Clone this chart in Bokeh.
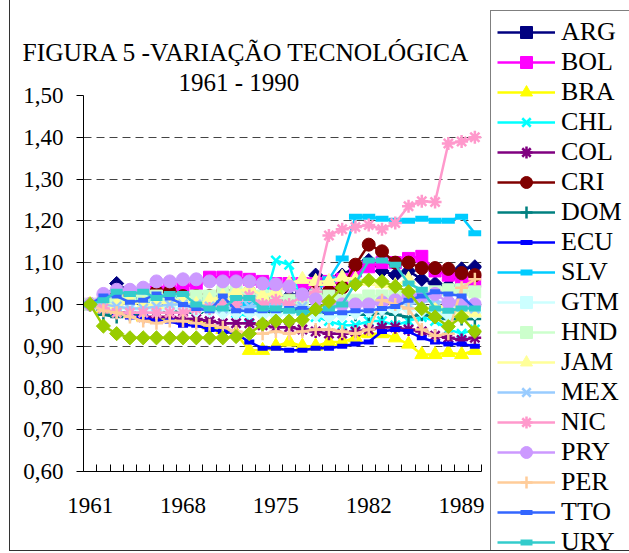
from bokeh.plotting import figure
from bokeh.layouts import row
from bokeh.models import (Range1d, FixedTicker, CustomJSTickFormatter, Legend,
                          LegendItem, Title)
from bokeh.embed import file_html
from bokeh.resources import INLINE

years = list(range(1961, 1991))
x_labels = [1961, 1968, 1975, 1982, 1989]
y_ticks = [0.6, 0.7, 0.8, 0.9, 1.0, 1.1, 1.2, 1.3, 1.4, 1.5]
grid_ticks = [0.7, 0.8, 0.9, 1.0, 1.1, 1.2, 1.3, 1.4]

title_line1 = "FIGURA 5 -VARIAÇÃO TECNOLÓGICA"
title_line2 = "1961 - 1990"

ARG = [1.00, 1.01, 1.05, 1.03, 1.02, 1.02, 1.02, 1.01, 1.01, 1.02,
       1.02, 1.02, 1.03, 1.02, 1.01, 1.02, 1.03, 1.07, 1.05, 1.07,
       1.09, 1.105, 1.08, 1.07, 1.08, 1.06, 1.05, 1.045, 1.085, 1.09]
BOL = [1.00, 1.01, 1.01, 1.02, 1.02, 1.03, 1.04, 1.04, 1.05, 1.065,
       1.065, 1.065, 1.06, 1.055, 1.05, 1.05, 1.05, 1.05, 1.055, 1.06,
       1.08, 1.09, 1.10, 1.10, 1.11, 1.115, 1.08, 1.07, 1.06, 1.055]
BRA = [1.00, 0.99, 0.98, 0.98, 0.97, 0.97, 0.97, 0.965, 0.96, 0.95,
       0.94, 0.93, 0.89, 0.89, 0.90, 0.91, 0.90, 0.90, 0.91, 0.91,
       0.92, 0.93, 0.93, 0.92, 0.905, 0.88, 0.88, 0.885, 0.88, 0.89]
CHL = [1.00, 1.00, 1.01, 1.03, 1.02, 1.01, 1.01, 1.00, 1.00, 0.99,
       0.99, 0.98, 0.97, 0.99, 1.105, 1.095, 1.00, 0.97, 0.96, 0.95,
       0.95, 0.96, 0.96, 0.95, 0.96, 0.97, 0.96, 0.94, 0.93, 0.94]
COL = [1.00, 0.99, 0.98, 0.98, 0.97, 0.97, 0.97, 0.965, 0.965, 0.96,
       0.955, 0.955, 0.955, 0.95, 0.945, 0.945, 0.94, 0.935, 0.93, 0.93,
       0.935, 0.94, 0.945, 0.945, 0.94, 0.935, 0.925, 0.92, 0.915, 0.92]
CRI = [1.00, 1.01, 1.02, 1.02, 1.02, 1.03, 1.03, 1.02, 1.02, 1.02,
       1.03, 1.03, 1.03, 1.02, 1.01, 1.01, 1.02, 1.03, 1.03, 1.04,
       1.095, 1.143, 1.127, 1.10, 1.10, 1.087, 1.087, 1.085, 1.075, 1.07]
DOM = [1.00, 0.975, 0.97, 0.975, 0.98, 0.98, 0.985, 0.98, 0.98, 0.985,
       0.99, 0.985, 0.98, 0.98, 0.98, 0.985, 0.99, 0.985, 0.98, 0.98,
       0.975, 0.975, 0.98, 0.975, 0.97, 0.975, 0.97, 0.965, 0.965, 0.965]
ECU = [1.00, 0.99, 0.98, 0.97, 0.97, 0.96, 0.96, 0.95, 0.95, 0.94,
       0.935, 0.93, 0.91, 0.895, 0.895, 0.89, 0.89, 0.895, 0.895, 0.90,
       0.905, 0.91, 0.935, 0.94, 0.935, 0.92, 0.91, 0.905, 0.905, 0.90]
SLV = [1.00, 1.00, 1.01, 1.01, 1.01, 1.02, 1.02, 1.02, 1.01, 1.01,
       1.01, 1.00, 1.00, 1.00, 1.00, 1.01, 1.02, 1.03, 1.06, 1.11,
       1.21, 1.21, 1.205, 1.20, 1.20, 1.205, 1.20, 1.20, 1.21, 1.17]
GTM = [1.00, 0.995, 0.99, 0.99, 0.985, 0.985, 0.99, 0.99, 0.985, 0.985,
       0.98, 0.98, 0.98, 0.975, 0.975, 0.98, 0.98, 0.975, 0.97, 0.975,
       0.98, 0.985, 0.99, 0.99, 0.99, 0.985, 0.98, 0.975, 0.98, 0.98]
HND = [1.00, 1.01, 1.01, 1.02, 1.02, 1.02, 1.01, 1.015, 1.02, 1.02,
       1.03, 1.03, 1.025, 1.02, 1.02, 1.01, 1.01, 1.02, 1.02, 1.01,
       1.01, 1.02, 1.02, 1.02, 1.02, 1.025, 1.03, 1.035, 1.035, 1.03]
JAM = [1.00, 1.00, 1.00, 1.01, 1.00, 1.00, 1.01, 1.01, 1.00, 1.01,
       1.02, 1.03, 1.04, 1.02, 1.03, 1.05, 1.06, 1.055, 1.055, 1.065,
       1.06, 1.055, 1.05, 1.045, 1.06, 1.02, 1.00, 0.99, 0.98, 0.98]
MEX = [1.00, 1.00, 0.995, 0.99, 0.99, 0.995, 1.00, 1.00, 1.00, 0.995,
       0.99, 0.99, 0.995, 1.00, 1.00, 1.00, 0.995, 0.99, 0.99, 0.995,
       1.00, 1.00, 1.005, 1.005, 1.00, 1.005, 1.01, 1.00, 0.995, 0.99]
NIC = [1.00, 0.99, 0.98, 0.98, 0.98, 0.98, 0.98, 0.98, 0.99, 0.99,
       1.00, 1.00, 1.02, 1.00, 1.01, 1.00, 1.02, 1.03, 1.165, 1.18,
       1.185, 1.19, 1.18, 1.195, 1.235, 1.247, 1.245, 1.385, 1.39, 1.40]
PRY = [1.00, 1.025, 1.035, 1.035, 1.04, 1.055, 1.055, 1.06, 1.06, 1.055,
       1.055, 1.055, 1.055, 1.05, 1.048, 1.043, 1.024, 1.012, 1.002, 1.00,
       1.00, 1.00, 1.005, 1.01, 1.02, 1.02, 1.025, 1.005, 1.005, 1.00]
PER = [1.00, 0.985, 0.98, 0.97, 0.96, 0.955, 0.96, 0.96, 0.955, 0.95,
       0.945, 0.935, 0.93, 0.93, 0.935, 0.93, 0.935, 0.94, 0.94, 0.935,
       0.93, 0.94, 1.01, 1.00, 0.99, 0.94, 0.925, 0.93, 1.04, 1.06]
TTO = [1.00, 1.02, 1.02, 1.005, 1.01, 1.025, 1.015, 1.00, 0.99, 0.985,
       1.02, 0.985, 0.985, 0.985, 0.985, 0.99, 0.99, 0.985, 0.98, 0.98,
       0.985, 0.985, 0.99, 0.995, 1.01, 1.02, 1.03, 1.025, 1.02, 0.99]
URY = [1.00, 1.01, 1.03, 1.025, 1.03, 1.015, 1.025, 1.025, 1.00, 0.99,
       0.99, 1.015, 1.015, 0.99, 0.99, 0.985, 0.98, 0.985, 0.99, 1.00,
       1.05, 1.105, 1.105, 1.095, 1.05, 1.035, 0.99, 0.985, 0.99, 0.99]
VEN = [1.00, 0.948, 0.93, 0.92, 0.92, 0.92, 0.92, 0.92, 0.92, 0.92,
       0.92, 0.923, 0.93, 0.953, 0.96, 0.96, 0.963, 0.988, 1.007, 1.04,
       1.048, 1.058, 1.055, 1.043, 1.03, 0.99, 0.97, 0.947, 0.97, 0.935]

series_names = ["ARG", "BOL", "BRA", "CHL", "COL", "CRI", "DOM", "ECU", "SLV",
                "GTM", "HND", "JAM", "MEX", "NIC", "PRY", "PER", "TTO", "URY", "VEN"]
series_values = [ARG, BOL, BRA, CHL, COL, CRI, DOM, ECU, SLV,
                 GTM, HND, JAM, MEX, NIC, PRY, PER, TTO, URY, VEN]

# style: (color, marker, size, marker line width, angle)
styles = {
    "ARG": ("#000080", "square", 10, 1, 0.785398),
    "BOL": ("#FF00FF", "square", 12, 1, 0),
    "BRA": ("#FFFF00", "triangle", 14, 1, 0),
    "CHL": ("#00FFFF", "x", 13, 2.5, 0),
    "COL": ("#800080", "asterisk", 13, 2.5, 0),
    "CRI": ("#800000", "circle", 13, 1, 0),
    "DOM": ("#008080", "cross", 13, 2.5, 0),
    "ECU": ("#0000FF", "dash", 10, 5, 0),
    "SLV": ("#00CCFF", "dash", 13, 6, 0),
    "GTM": ("#CCFFFF", "square", 10, 1, 0.785398),
    "HND": ("#CCFFCC", "square", 12, 1, 0),
    "JAM": ("#FFFF99", "triangle", 14, 1, 0),
    "MEX": ("#99CCFF", "x", 13, 2.5, 0),
    "NIC": ("#FF99CC", "asterisk", 13, 2.5, 0),
    "PRY": ("#CC99FF", "circle", 13, 1, 0),
    "PER": ("#FFCC99", "cross", 13, 2.5, 0),
    "TTO": ("#3366FF", "dash", 10, 5, 0),
    "URY": ("#33CCCC", "dash", 12, 6, 0),
    "VEN": ("#99CC00", "square", 10, 1, 0.785398),
}

FONT = "Liberation Serif"

# ---------------- main chart ----------------
p = figure(width=479, height=550, output_backend="svg", toolbar_location=None,
           title=None,
           x_range=Range1d(1960.5, 1990.5), y_range=Range1d(0.6, 1.5),
           min_border_left=73, min_border_right=8, min_border_top=95,
           min_border_bottom=79)
p.frame_align = False
p.outline_line_color = None
p.background_fill_color = "white"
p.border_fill_color = "white"

p.xaxis.ticker = FixedTicker(ticks=x_labels,
                             minor_ticks=[y - 0.5 for y in years] + [years[-1] + 0.5])
p.xaxis.major_tick_line_color = None
p.xaxis.major_tick_in = 0
p.xaxis.major_tick_out = 0
p.xaxis.minor_tick_line_color = "black"
p.xaxis.minor_tick_in = 7
p.xaxis.minor_tick_out = 0
p.xaxis.major_label_standoff = 26
p.yaxis.ticker = FixedTicker(ticks=y_ticks)
p.yaxis.formatter = CustomJSTickFormatter(code="return tick.toFixed(2).replace('.', ',');")
p.yaxis.major_tick_in = 0
p.yaxis.major_tick_out = 7
p.yaxis.minor_tick_line_color = None
p.yaxis.major_label_standoff = 13
for ax in (p.xaxis, p.yaxis):
    ax.axis_line_color = "black"
    ax.axis_line_width = 1
    ax.major_label_text_font = FONT
    ax.major_label_text_font_size = "23px"
    ax.major_label_text_color = "black"

p.xgrid.grid_line_color = None
p.ygrid.ticker = FixedTicker(ticks=grid_ticks)
p.ygrid.grid_line_color = "#444444"
p.ygrid.grid_line_dash = "8 5"
p.ygrid.grid_line_width = 1

for name, vals in zip(series_names, series_values):
    color, marker, size, mlw, ang = styles[name]
    p.line(years, vals, line_color=color, line_width=2.5)
    p.scatter(years, vals, marker=marker, size=size, angle=ang,
              fill_color=color, line_color=color, line_width=mlw)

p.add_layout(Title(text=title_line2, align="left", offset=95, standoff=0,
                   text_font=FONT, text_font_size="25px", text_font_style="normal",
                   text_color="black"), "above")
p.add_layout(Title(text=title_line1, align="left", offset=-61, standoff=0,
                   text_font=FONT, text_font_size="25.5px", text_font_style="normal",
                   text_color="black"), "above")

# ---------------- legend panel ----------------
q = figure(width=140, height=550, output_backend="svg", toolbar_location=None,
           title=None, x_range=Range1d(0, 1), y_range=Range1d(0, 1),
           min_border_left=0, min_border_right=0, min_border_top=0,
           min_border_bottom=0)
q.frame_align = False
q.xaxis.visible = False
q.yaxis.visible = False
q.xgrid.visible = False
q.ygrid.visible = False
q.outline_line_color = None
q.background_fill_color = "white"
q.border_fill_color = "white"

items = []
for name, vals in zip(series_names, series_values):
    color, marker, size, mlw, ang = styles[name]
    # same series, outside this panel's visible range: only the legend shows
    r1 = q.line(years, vals, line_color=color, line_width=2.5)
    r2 = q.scatter(years, vals, marker=marker, size=size, angle=ang,
                   fill_color=color, line_color=color, line_width=mlw)
    items.append(LegendItem(label=name, renderers=[r1, r2]))

legend = Legend(items=items, location=(1, -44), orientation="vertical",
                label_text_font=FONT, label_text_font_size="26px",
                label_text_color="black",
                label_height=30, glyph_height=30, glyph_width=58,
                label_standoff=6, spacing=0, padding=6, margin=0,
                label_width=75,
                border_line_color="black", border_line_width=1,
                background_fill_color="white", background_fill_alpha=1)
q.add_layout(legend)

layout = row(p, q, spacing=0)
layout.styles = {"margin-left": "9px", "border-left": "1px solid #333333",
                 "border-bottom": "1px solid #333333"}

open("out.html", "w").write(file_html(layout, INLINE))
